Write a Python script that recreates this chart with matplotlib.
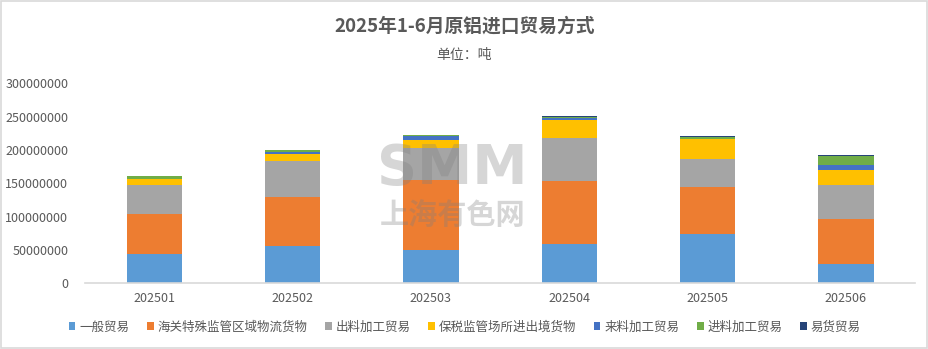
import matplotlib
matplotlib.use("Agg")
import matplotlib.pyplot as plt
import numpy as np
from matplotlib.patches import Rectangle

plt.rcParams['font.family'] = ['Noto Sans CJK SC', 'DejaVu Sans']

months = ["202501", "202502", "202503", "202504", "202505", "202506"]
series_names = ["一般贸易", "海关特殊监管区域物流货物", "出料加工贸易",
                "保税监管场所进出境货物", "来料加工贸易", "进料加工贸易", "易货贸易"]
general_trade = [44000000, 56000000, 50000000, 59000000, 74000000, 29000000]
bonded_zone_logistics = [60000000, 74000000, 105000000, 95000000, 70500000, 67500000]
outward_processing = [43500000, 53500000, 48500000, 64000000, 41500000, 51000000]
bonded_warehouse = [8500000, 10500000, 12000000, 27000000, 30000000, 22500000]
processing_supplied = [500000, 3500000, 6000000, 2500000, 1000000, 7500000]
processing_imported = [4000000, 2500000, 1000000, 1500000, 2500000, 14000000]
barter_trade = [300000, 300000, 500000, 1500000, 2000000, 1000000]

series = [general_trade, bonded_zone_logistics, outward_processing,
          bonded_warehouse, processing_supplied, processing_imported, barter_trade]
colors = ["#5B9BD5", "#ED7D31", "#A5A5A5", "#FFC000", "#4472C4", "#70AD47", "#264478"]

fig = plt.figure(figsize=(9.29, 3.49), dpi=100)
fig.patch.set_facecolor("white")
fig.add_artist(Rectangle((0.001, 0.002), 0.997, 0.995, transform=fig.transFigure,
                         fill=False, edgecolor="#D9D9D9", linewidth=1.2))

ax = fig.add_axes([0.0915, 0.188, 0.8935, 0.573])
x = np.arange(len(months))
bottom = np.zeros(len(months))
for name, vals, c in zip(series_names, series, colors):
    ax.bar(x, vals, width=0.4, bottom=bottom, color=c, label=name, zorder=2)
    bottom += np.array(vals)

ax.set_xlim(-0.5, len(months) - 0.5)
ax.set_ylim(0, 300000000)
ax.set_yticks(np.arange(0, 300000001, 50000000))
ax.set_yticklabels([str(int(v)) for v in np.arange(0, 300000001, 50000000)])
ax.set_xticks(x)
ax.set_xticklabels(months)
ax.tick_params(axis="both", length=0, labelsize=9, colors="#595959")
ax.tick_params(axis="x", pad=6)
ax.tick_params(axis="y", pad=12)
for s in ["top", "right", "left"]:
    ax.spines[s].set_visible(False)
ax.spines["bottom"].set_color("#D9D9D9")
ax.spines["bottom"].set_linewidth(1.2)

# watermark
fig.text(0.487, 0.515, "SMM", fontsize=40, fontweight="bold", color="#808080",
         alpha=0.32, ha="center", va="center", family="DejaVu Sans")
fig.text(0.487, 0.385, "上海有色网", fontsize=21, fontweight="bold", color="#808080",
         alpha=0.32, ha="center", va="center")

fig.text(0.5, 0.925, "2025年1-6月原铝进口贸易方式", fontsize=13.5, fontweight="bold",
         color="#595959", ha="center", va="center")
fig.text(0.5, 0.842, "单位：吨", fontsize=10, color="#595959", ha="center", va="center")

handles, labels = ax.get_legend_handles_labels()
fig.legend(handles, labels, loc="center", bbox_to_anchor=(0.5, 0.063), ncol=7,
           frameon=False, fontsize=9, handlelength=0.55, handleheight=0.55,
           handletextpad=0.3, columnspacing=1.4, labelcolor="#595959")

fig.savefig("out.png", dpi=100, facecolor="white")
